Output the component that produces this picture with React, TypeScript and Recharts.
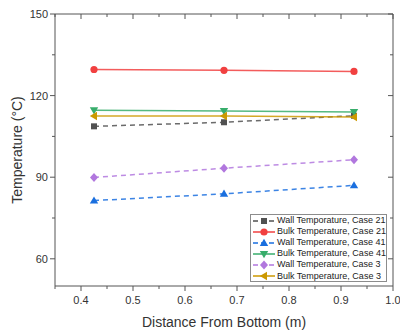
import React from 'react';
import { LineChart, Line, XAxis, YAxis, Legend, Label } from 'recharts';

// ---- data ----
const distances = [0.425, 0.675, 0.925];
const wallCase21 = [108.7, 110.2, 112.6];
const bulkCase21 = [129.6, 129.3, 128.9];
const wallCase41 = [81.4, 83.9, 87.0];
const bulkCase41 = [114.6, 114.3, 114.0];
const wallCase3 = [89.9, 93.3, 96.4];
const bulkCase3 = [112.5, 112.5, 112.1];

const seriesNames = [
  'Wall Temporature, Case 21',
  'Bulk Temperature, Case 21',
  'Wall Temperature, Case 41',
  'Bulk Temperature, Case 41',
  'Wall Temperature, Case 3',
  'Bulk Temperature, Case 3',
];

const xTicks = [0.35, 0.4, 0.45, 0.5, 0.55, 0.6, 0.65, 0.7, 0.75, 0.8, 0.85, 0.9, 0.95, 1.0];
const xMajorTicks = [0.4, 0.5, 0.6, 0.7, 0.8, 0.9, 1.0];
const yTicks = [60, 75, 90, 105, 120, 135, 150];
const yMajorTicks = [60, 90, 120, 150];

const FONT = '"Liberation Sans", Arial, sans-serif';
const AXIS = '#555';
const TEXT = '#333';

type Shape = 'square' | 'circle' | 'up' | 'down' | 'diamond' | 'left';

const SERIES: { key: string; name: string; values: number[]; color: string; shape: Shape; dashed: boolean }[] = [
  { key: 's0', name: seriesNames[0], values: wallCase21, color: '#515151', shape: 'square', dashed: true },
  { key: 's1', name: seriesNames[1], values: bulkCase21, color: '#F14040', shape: 'circle', dashed: false },
  { key: 's2', name: seriesNames[2], values: wallCase41, color: '#1A6FDF', shape: 'up', dashed: true },
  { key: 's3', name: seriesNames[3], values: bulkCase41, color: '#37AD6B', shape: 'down', dashed: false },
  { key: 's4', name: seriesNames[4], values: wallCase3, color: '#B177DE', shape: 'diamond', dashed: true },
  { key: 's5', name: seriesNames[5], values: bulkCase3, color: '#CC9900', shape: 'left', dashed: false },
];

const data = distances.map((x, i) => {
  const row: Record<string, number> = { x };
  SERIES.forEach((s) => {
    row[s.key] = s.values[i];
  });
  return row;
});

const isMajor = (v: number, list: number[]) => list.some((m) => Math.abs(m - v) < 1e-6);

const Marker = ({ cx, cy, shape, color }: { cx: number; cy: number; shape: Shape; color: string }) => {
  switch (shape) {
    case 'square':
      return <rect x={cx - 3} y={cy - 3} width={6} height={6} fill={color} />;
    case 'circle':
      return <circle cx={cx} cy={cy} r={3.6} fill={color} />;
    case 'up':
      return <polygon points={`${cx},${cy - 4.2} ${cx + 4.2},${cy + 3} ${cx - 4.2},${cy + 3}`} fill={color} />;
    case 'down':
      return <polygon points={`${cx},${cy + 4.2} ${cx + 4.2},${cy - 3} ${cx - 4.2},${cy - 3}`} fill={color} />;
    case 'diamond':
      return <polygon points={`${cx},${cy - 4.5} ${cx + 4},${cy} ${cx},${cy + 4.5} ${cx - 4},${cy}`} fill={color} />;
    case 'left':
      return <polygon points={`${cx - 4.2},${cy} ${cx + 3},${cy - 4.2} ${cx + 3},${cy + 4.2}`} fill={color} />;
  }
  return null;
};

const BottomTick = (props: any) => {
  const { x, y, payload } = props;
  const v = payload.value as number;
  const major = isMajor(v, xMajorTicks);
  return (
    <g>
      <line x1={x} x2={x} y1={y} y2={y + (major ? 5 : 3)} stroke={AXIS} strokeWidth={1} />
      {major && (
        <text x={x} y={y + 18} textAnchor="middle" fontSize={11} fontFamily={FONT} fill={TEXT}>
          {v.toFixed(1)}
        </text>
      )}
    </g>
  );
};

const TopTick = (props: any) => {
  const { x, y, payload } = props;
  const major = isMajor(payload.value, xMajorTicks);
  return <line x1={x} x2={x} y1={y} y2={y + (major ? 5 : 3)} stroke={AXIS} strokeWidth={1} />;
};

const LeftTick = (props: any) => {
  const { x, y, payload } = props;
  const v = payload.value as number;
  const major = isMajor(v, yMajorTicks);
  return (
    <g>
      <line x1={x - (major ? 5 : 3)} x2={x} y1={y} y2={y} stroke={AXIS} strokeWidth={1} />
      {major && (
        <text x={x - 7} y={y + 4} textAnchor="end" fontSize={11} fontFamily={FONT} fill={TEXT}>
          {v}
        </text>
      )}
    </g>
  );
};

const RightTick = (props: any) => {
  const { x, y, payload } = props;
  const major = isMajor(payload.value, yMajorTicks);
  return <line x1={x - (major ? 5 : 3)} x2={x} y1={y} y2={y} stroke={AXIS} strokeWidth={1} />;
};

const YTitle = (props: any) => {
  const vb = props.viewBox || { x: 0, y: 14, width: 55, height: 272 };
  const cx = vb.x + 17;
  const cy = vb.y + vb.height / 2;
  return (
    <text
      x={cx}
      y={cy}
      transform={`rotate(-90 ${cx} ${cy})`}
      textAnchor="middle"
      dominantBaseline="central"
      fontSize={14}
      fontFamily={FONT}
      fill={TEXT}
    >
      Temperature (°C)
    </text>
  );
};

const XTitle = (props: any) => {
  const vb = props.viewBox || { x: 55, y: 286, width: 338, height: 45 };
  return (
    <text
      x={vb.x + vb.width / 2}
      y={vb.y + 41}
      textAnchor="middle"
      fontSize={14}
      fontFamily={FONT}
      fill={TEXT}
    >
      Distance From Bottom (m)
    </text>
  );
};

const LegendBox = () => (
  <div
    style={{
      width: 137,
      height: 68,
      border: '1px solid #8c8c8c',
      background: '#fff',
      boxSizing: 'border-box',
      padding: '0 0 0 2px',
      fontFamily: FONT,
      fontSize: 9,
      color: '#222',
    }}
  >
    {SERIES.map((s) => (
      <div key={s.key} style={{ display: 'flex', alignItems: 'center', height: 11.1 }}>
        <svg width={22} height={10} style={{ display: 'block', flex: 'none' }}>
          <line
            x1={0}
            x2={22}
            y1={5}
            y2={5}
            stroke={s.color}
            strokeWidth={1.5}
            strokeDasharray={s.dashed ? '5 3' : undefined}
          />
          <Marker cx={11} cy={5} shape={s.shape} color={s.color} />
        </svg>
        <span style={{ marginLeft: 2, whiteSpace: 'nowrap', lineHeight: '11px' }}>{s.name}</span>
      </div>
    ))}
  </div>
);

export default function App() {
  return (
    <div style={{ position: 'absolute', left: 0, top: 0, width: 400, height: 331, background: '#fff' }}>
      <LineChart width={400} height={331} data={data} margin={{ top: 14, right: 7, bottom: 0, left: 0 }}>
        <XAxis
          xAxisId={0}
          dataKey="x"
          type="number"
          domain={[0.35, 1.0]}
          ticks={xTicks}
          interval={0}
          allowDataOverflow
          height={45}
          tickSize={0}
          tickMargin={0}
          tickLine={false}
          axisLine={{ stroke: AXIS, strokeWidth: 1 }}
          tick={<BottomTick />}
        >
          <Label content={<XTitle />} />
        </XAxis>
        <XAxis
          xAxisId="top"
          dataKey="x"
          type="number"
          orientation="top"
          mirror
          domain={[0.35, 1.0]}
          ticks={xTicks}
          interval={0}
          allowDataOverflow
          height={10}
          tickSize={0}
          tickMargin={0}
          tickLine={false}
          axisLine={{ stroke: AXIS, strokeWidth: 1 }}
          tick={<TopTick />}
        />
        <YAxis
          yAxisId={0}
          type="number"
          domain={[50, 150]}
          ticks={yTicks}
          interval={0}
          allowDataOverflow
          width={55}
          tickSize={0}
          tickMargin={0}
          tickLine={false}
          axisLine={{ stroke: AXIS, strokeWidth: 1 }}
          tick={<LeftTick />}
        >
          <Label content={<YTitle />} />
        </YAxis>
        <YAxis
          yAxisId="right"
          orientation="right"
          mirror
          type="number"
          domain={[50, 150]}
          ticks={yTicks}
          interval={0}
          allowDataOverflow
          width={10}
          tickSize={0}
          tickMargin={0}
          tickLine={false}
          axisLine={{ stroke: AXIS, strokeWidth: 1 }}
          tick={<RightTick />}
        />
        {SERIES.map((s) => (
          <Line
            key={s.key}
            xAxisId={0}
            yAxisId={0}
            dataKey={s.key}
            name={s.name}
            stroke={s.color}
            strokeWidth={1.5}
            strokeOpacity={0.85}
            strokeDasharray={s.dashed ? '5 4' : undefined}
            isAnimationActive={false}
            dot={(p: any) => <Marker key={`${s.key}-${p.index}`} cx={p.cx} cy={p.cy} shape={s.shape} color={s.color} />}
            activeDot={false}
          />
        ))}
        <Legend
          layout="vertical"
          align="center"
          verticalAlign="middle"
          content={<LegendBox />}
          wrapperStyle={{ left: 250, top: 214, width: 137, height: 68 }}
        />
      </LineChart>
    </div>
  );
}
